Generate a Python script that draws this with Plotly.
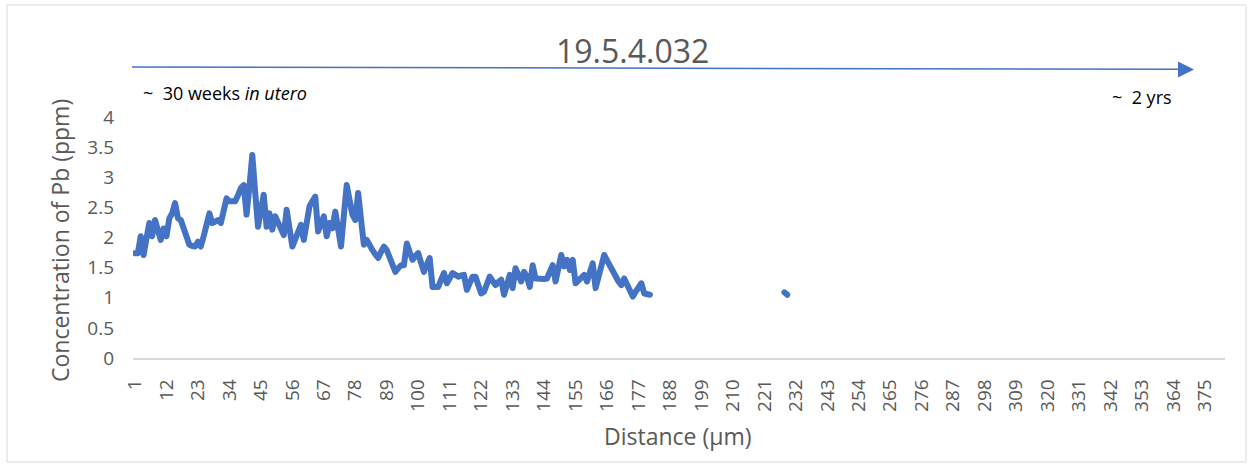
import plotly.graph_objects as go

# ---- data ----
pb_main = [
    1.74, 1.74, 2.02, 1.71, 1.98, 2.24, 2.02, 2.29, 2.12, 1.96,
    2.15, 2.02, 2.32, 2.40, 2.57, 2.32, 2.29, 2.15, 2.01, 1.88,
    1.86, 1.85, 1.93, 1.85, 2.02, 2.20, 2.40, 2.24, 2.27, 2.29,
    2.24, 2.45, 2.65, 2.60, 2.61, 2.60, 2.70, 2.82, 2.87, 2.38,
    2.85, 3.37, 2.75, 2.18, 2.45, 2.71, 2.18, 2.40, 2.13, 2.35,
    2.25, 2.14, 2.04, 2.46, 2.15, 1.85, 1.97, 2.09, 2.21, 1.96,
    2.24, 2.52, 2.60, 2.68, 2.10, 2.22, 2.35, 2.02, 2.24, 2.15,
    2.43, 2.14, 1.85, 2.36, 2.87, 2.62, 2.38, 2.29, 2.74, 2.30,
    1.88, 1.96, 1.85, 1.79, 1.72, 1.66, 1.76, 1.85, 1.79, 1.67,
    1.55, 1.43, 1.49, 1.54, 1.54, 1.90, 1.76, 1.63, 1.69, 1.74,
    1.58, 1.43, 1.55, 1.66, 1.18, 1.18, 1.18, 1.30, 1.41, 1.24,
    1.33, 1.41, 1.38, 1.35, 1.37, 1.38, 1.13, 1.24, 1.35, 1.35,
    1.21, 1.07, 1.10, 1.23, 1.35, 1.28, 1.21, 1.26, 1.30, 1.05,
    1.22, 1.38, 1.16, 1.49, 1.38, 1.27, 1.43, 1.35, 1.18, 1.54,
    1.32, 1.31, 1.30, 1.31, 1.32, 1.43, 1.54, 1.27, 1.49, 1.71,
    1.52, 1.63, 1.46, 1.63, 1.24, 1.29, 1.33, 1.38, 1.27, 1.42,
    1.57, 1.16, 1.38, 1.55, 1.71, 1.62, 1.52, 1.43, 1.35, 1.27,
    1.21, 1.32, 1.22, 1.12, 1.02, 1.10, 1.16, 1.24, 1.07, 1.05,
    1.05,
]
pb_late_distance = [228, 229]
pb_late = [1.09, 1.05]

x_tick_vals = [1, 12, 23, 34, 45, 56, 67, 78, 89, 100, 111, 122, 133, 144,
               155, 166, 177, 188, 199, 210, 221, 232, 243, 254, 265, 276,
               287, 298, 309, 320, 331, 342, 353, 364, 375]
y_tick_vals = [0, 0.5, 1, 1.5, 2, 2.5, 3, 3.5, 4]
y_tick_text = ["0", "0.5", "1", "1.5", "2", "2.5", "3", "3.5", "4"]
n_categories = 382

# ---- assemble one series with a gap ----
distance = list(range(1, len(pb_main) + 1)) + [None] + pb_late_distance
conc = pb_main + [None] + pb_late

FONT = "Open Sans"
GREY = "#595959"
BLUE = "#4472C4"

fig = go.Figure()
fig.add_trace(go.Scatter(
    x=distance, y=conc, mode="lines",
    line=dict(color=BLUE, width=6),
    connectgaps=False, hoverinfo="x+y", showlegend=False,
))

W, H = 1253, 468
L, R, T, B = 133, 28, 117, 110
pw, ph = W - L - R, H - T - B


def px(x):
    return (x - L) / pw


def py(y):
    return (H - B - y) / ph


fig.update_layout(
    width=W, height=H,
    margin=dict(l=L, r=R, t=T, b=B),
    paper_bgcolor="white", plot_bgcolor="white",
    font=dict(family=FONT, color=GREY),
    xaxis=dict(
        range=[0.3, n_categories],
        tickmode="array", tickvals=x_tick_vals,
        ticktext=[str(v) for v in x_tick_vals],
        tickangle=-90, tickfont=dict(size=19, color=GREY, family=FONT),
        showgrid=False, zeroline=False, ticks="",
        showline=True, linecolor="#D9D9D9", linewidth=1.5,
        ticklabelstandoff=12,
    ),
    yaxis=dict(
        range=[0, 4], tickmode="array", tickvals=y_tick_vals,
        ticktext=y_tick_text,
        tickfont=dict(size=19, color=GREY, family=FONT),
        showgrid=False, zeroline=False, ticks="", showline=False,
        ticklabelstandoff=18,
    ),
)

# outer border
fig.add_shape(type="rect", xref="paper", yref="paper",
              x0=px(7), x1=px(1246), y0=py(462), y1=py(5),
              line=dict(color="#D9D9D9", width=1), layer="below")
# timeline arrow
fig.add_shape(type="line", xref="paper", yref="paper",
              x0=px(132), y0=py(67), x1=px(1180), y1=py(69.3),
              line=dict(color=BLUE, width=1.5))
fig.add_shape(type="path", xref="paper", yref="paper",
              path=f"M {px(1178)},{py(61.5)} L {px(1194)},{py(69.5)} L {px(1178)},{py(77.5)} Z",
              fillcolor=BLUE, line=dict(color=BLUE, width=0))

ann = [
    dict(text="19.5.4.032", x=px(632), y=py(50), font=dict(size=32, color=GREY)),
    dict(text="~  30 weeks <i>in utero</i>", x=px(141), y=py(93), xanchor="left",
         font=dict(size=18, color="black")),
    dict(text="~  2 yrs", x=px(1110), y=py(97), xanchor="left",
         font=dict(size=18, color="black")),
    dict(text="Distance (µm)", x=px(678), y=py(436), font=dict(size=23, color=GREY)),
    dict(text="Concentration of Pb (ppm)", x=px(60), y=py(241), textangle=-90,
         font=dict(size=23, color=GREY)),
]
for a in ann:
    a.setdefault("xanchor", "center")
    fig.add_annotation(xref="paper", yref="paper", showarrow=False,
                       yanchor="middle", **a)

fig.write_html(
    "out.html",
    config={"displayModeBar": False},
    post_script=(
        "document.body.style.margin='0';document.body.style.padding='0';"
        "document.querySelectorAll('.js-line').forEach(function(p){"
        "p.style.strokeLinejoin='round';p.style.strokeLinecap='round';});"
    ),
)
